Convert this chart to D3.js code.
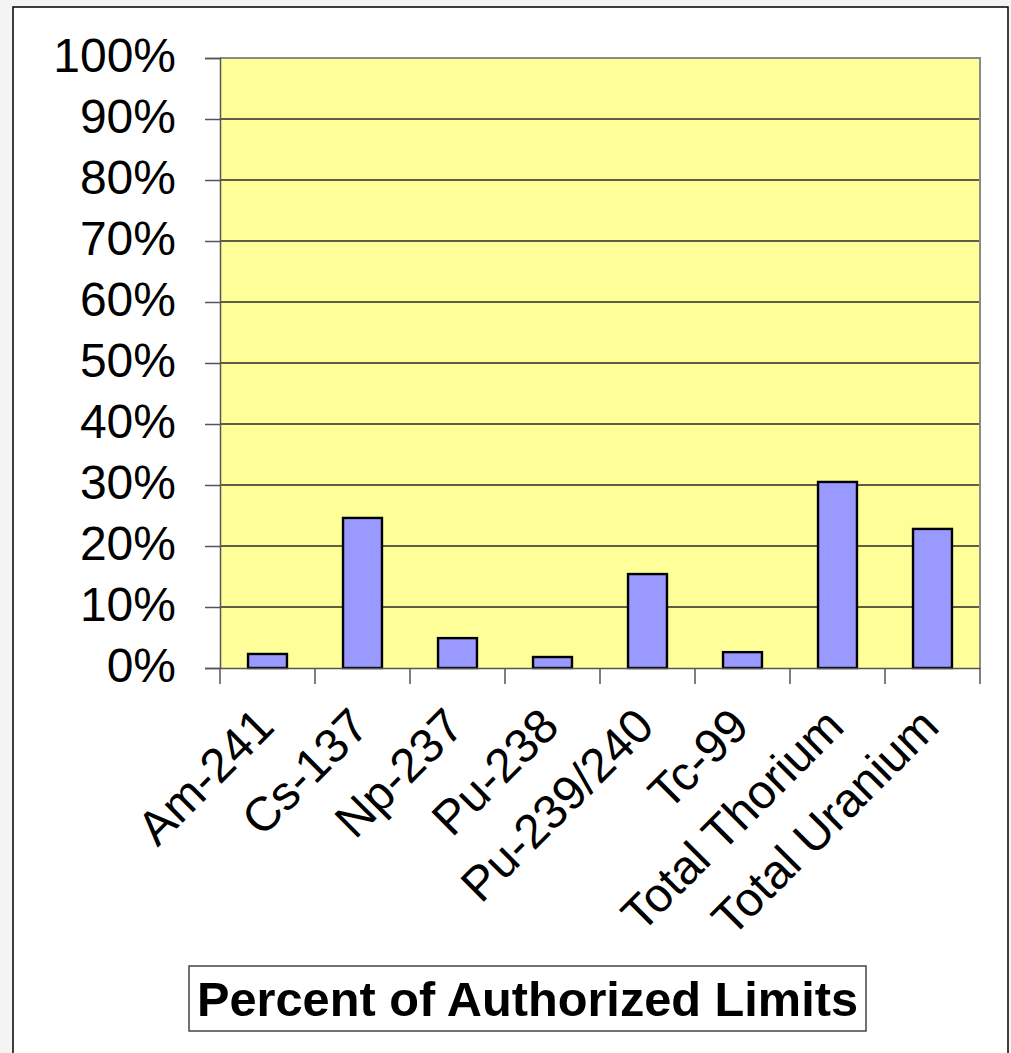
<!DOCTYPE html>
<html><head><meta charset="utf-8">
<script src="https://cdn.jsdelivr.net/npm/d3@7"></script>
<style>
html,body{margin:0;padding:0;background:#f4f4f4;}
svg{display:block;}
text{font-family:"Liberation Sans",Arial,sans-serif;}
</style></head>
<body>
<svg id="chart" width="1011" height="1053"></svg>
<script>
const categories = ["Am-241","Cs-137","Np-237","Pu-238","Pu-239/240","Tc-99","Total Thorium","Total Uranium"];
const values = [0.023,0.246,0.049,0.018,0.154,0.026,0.305,0.228];
const yTicks = [0,0.1,0.2,0.3,0.4,0.5,0.6,0.7,0.8,0.9,1.0];
const titleText = "Percent of Authorized Limits";

const svg = d3.select("#chart");
// page frame
svg.append("rect").attr("x",13).attr("y",7).attr("width",995).attr("height",1060)
  .attr("fill","#fff").attr("stroke","#000").attr("stroke-width",1.5);

const L=220,R=980,T=58,B=668;
const y = d3.scaleLinear().domain([0,1]).range([B,T]);
const x = d3.scaleBand().domain(categories).range([L,R]).paddingInner(0.59).paddingOuter(0.295);
const xb = d3.scaleBand().domain(categories).range([L,R]).padding(0);

svg.append("rect").attr("x",L).attr("y",T).attr("width",R-L).attr("height",B-T).attr("fill","#ffff99");

// gridlines
svg.append("g").selectAll("line").data(yTicks.filter(d=>d>0&&d<1)).join("line")
  .attr("x1",L).attr("x2",R).attr("y1",d=>y(d)).attr("y2",d=>y(d))
  .attr("stroke","#2a2a2a").attr("stroke-width",1.3);

// plot border top/right
svg.append("path").attr("d",`M${L},${T}H${R}V${B}`).attr("fill","none").attr("stroke","#8a8a8a").attr("stroke-width",2);

// bars
svg.append("g").selectAll("rect").data(categories).join("rect")
  .attr("x",d=>x(d)).attr("width",x.bandwidth())
  .attr("y",(d,i)=>y(values[i])).attr("height",(d,i)=>B-y(values[i]))
  .attr("fill","#9999ff").attr("stroke","#000").attr("stroke-width",2.4);

// y axis
const yAxis = d3.axisLeft(y).tickValues(yTicks).tickFormat(d3.format(".0%")).tickSize(15).tickPadding(29);
const gy = svg.append("g").attr("transform",`translate(${L},0)`).call(yAxis);
gy.select(".domain").attr("stroke","#555").attr("stroke-width",1.5);
gy.selectAll(".tick line").attr("stroke","#555").attr("stroke-width",1.5);
gy.selectAll(".tick text").attr("font-size",48).attr("fill","#000").attr("dy","0.29em")
  .style("font-family","'Liberation Sans',Arial,sans-serif");

// x axis
const xAxis = d3.axisBottom(xb).tickSize(0).tickFormat("");
const gx = svg.append("g").attr("transform",`translate(0,${B})`).call(xAxis);
gx.select(".domain").attr("stroke","#555").attr("stroke-width",1.5);
const bounds = [L, ...categories.map(c=>xb(c)+xb.bandwidth())];
gx.append("g").selectAll("line").data(bounds).join("line")
  .attr("x1",d=>d).attr("x2",d=>d).attr("y1",0).attr("y2",16)
  .attr("stroke","#555").attr("stroke-width",1.5);
gx.append("g").selectAll("text").data(categories).join("text")
  .attr("transform",d=>`translate(${xb(d)+xb.bandwidth()/2-3},${49}) rotate(-45)`)
  .attr("text-anchor","end").attr("dy","0.35em")
  .attr("font-size",48).attr("fill","#000").text(d=>d);

// title box
const tb = svg.append("g");
tb.append("rect").attr("x",189).attr("y",966).attr("width",677).attr("height",65)
  .attr("fill","#fff").attr("stroke","#444").attr("stroke-width",1.5);
const tt = tb.append("text").attr("x",527.5).attr("y",1016).attr("text-anchor","middle")
  .attr("font-weight","bold").attr("font-size",46).attr("fill","#000").text(titleText);
const len = tt.node().getComputedTextLength();
tt.attr("font-size",46*661/len);
</script>
</body></html>
